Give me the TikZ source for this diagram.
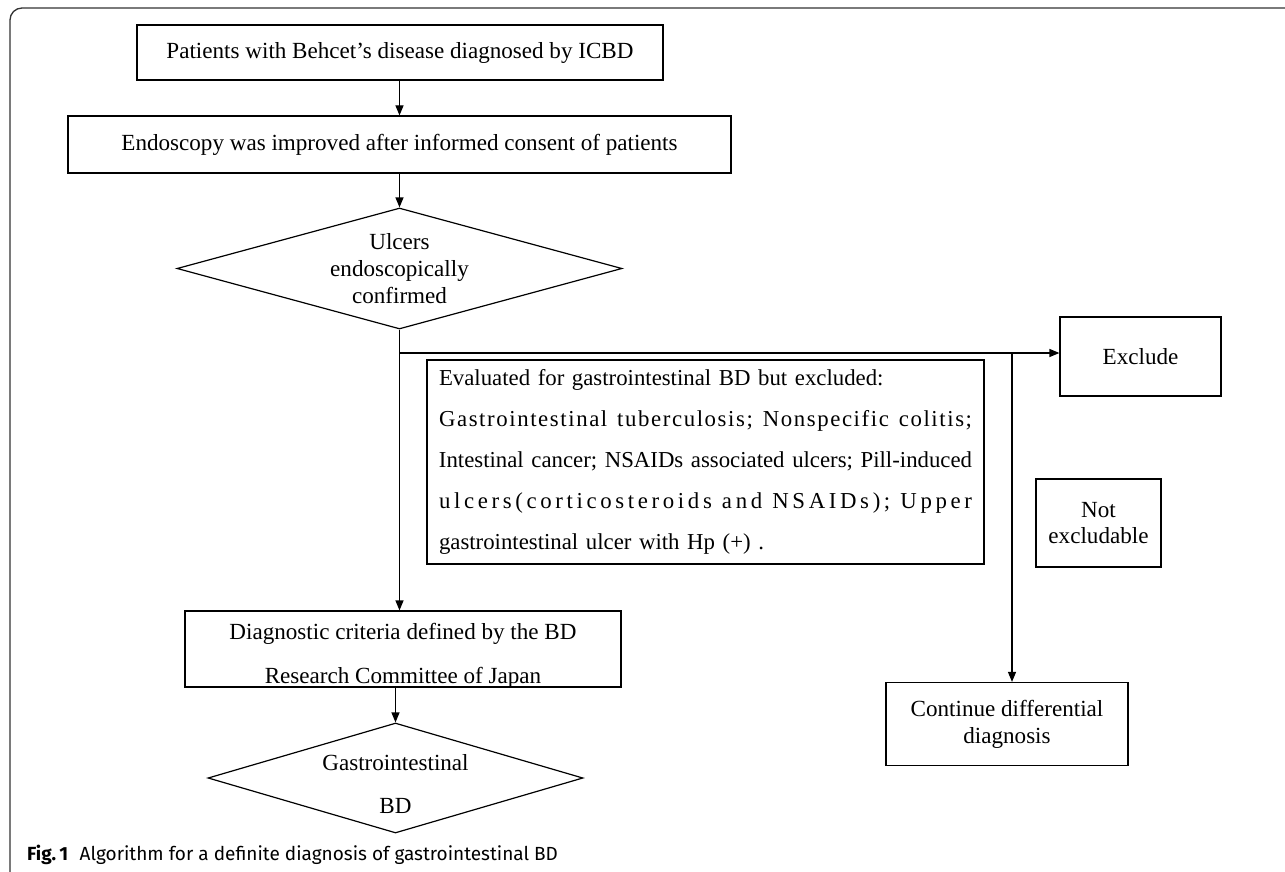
\documentclass[tikz,border=0pt]{standalone}
\usepackage{fontspec}
\setmainfont{Liberation Serif}
\newfontfamily\lsA[LetterSpace=7]{Liberation Serif}
\newfontfamily\lsB[LetterSpace=16]{Liberation Serif}
\newfontfamily\capfont{Fira Sans}
\usetikzlibrary{arrows.meta,shapes.geometric}
\newcommand{\dtext}[3]{\smash{\raisebox{#1}{\parbox[c]{#2}{\centering #3}}}}
\tikzset{
  every node/.style={font=\fontsize{23.1}{27}\selectfont},
  boxnode/.style={draw=black, line width=1.2pt, rectangle, inner sep=0pt, align=center},
  decision/.style={draw=black, line width=1.2pt, diamond, inner sep=0pt},
  flow/.style={draw=black, line width=1.2pt, -{Triangle[length=10pt,width=8pt]}},
}
\begin{document}
\begin{tikzpicture}[x=1pt,y=-1pt]
\useasboundingbox (0,0) rectangle (1285,872);
% outer frame
\draw[line width=1.3pt, black!80, rounded corners=12pt] (10,872) -- (10,8) -- (1285,8);

\node[boxnode, minimum width=526pt, minimum height=55pt] (b1) at (400,52.5)
  {Patients with Behcet's disease diagnosed by ICBD};
\node[boxnode, minimum width=663pt, minimum height=57pt] (b2) at (399.5,144.5)
  {Endoscopy was improved after informed consent of patients};
\node[decision, aspect=3.68, minimum width=445pt, minimum height=121pt] (d1) at (399.5,268.5)
  {\dtext{-6pt}{200pt}{Ulcers\\endoscopically\\confirmed}};

\node[boxnode, minimum width=557pt, minimum height=204pt, text width=533pt, align=left,
      font=\fontsize{22.8}{41}\selectfont] (ev) at (705.5,462)
  {Evaluated for gastrointestinal BD but excluded:\\
   \makebox[533pt]{\lsA Gastrointestinal \hfill tuberculosis; \hfill Nonspecific \hfill colitis;}\\
   \makebox[533pt]{Intestinal \hfill cancer; \hfill NSAIDs \hfill associated \hfill ulcers; \hfill Pill-induced}\\
   \makebox[533pt]{\lsB ulcers(corticosteroids \hfill and \hfill NSAIDs); \hfill Upper}\\
   gastrointestinal ulcer with Hp (+) .};

\node[boxnode, minimum width=161pt, minimum height=79pt] (ex) at (1140.5,356.5) {Exclude};
\node[boxnode, minimum width=125pt, minimum height=88pt, font=\fontsize{23.1}{26}\selectfont] (ne) at (1098.5,523)
  {Not\\excludable};
\node[boxnode, minimum width=242pt, minimum height=83pt] (cd) at (1007,724)
  {Continue differential\\diagnosis};
\node[boxnode, minimum width=436pt, minimum height=76pt, font=\fontsize{23.1}{44}\selectfont] (dc) at (403,649)
  {\dtext{-13pt}{420pt}{Diagnostic criteria defined by the BD\\Research Committee of Japan}};
\node[decision, aspect=3.41, minimum width=375pt, minimum height=110pt, font=\fontsize{23.1}{43}\selectfont] (gi) at (395.5,778)
  {\dtext{-12pt}{200pt}{Gastrointestinal\\BD}};

\coordinate (j1) at (399.5,353);
\coordinate (j2) at (1012,353);

\draw[flow] (b1.south -| b2.north) -- (b2.north);
\draw[flow] (b2.south) -- (d1.north);
\draw[flow] (d1.south) -- (d1.south |- dc.north);
\draw[flow] (j1) -- (j1 -| ex.west);
\draw[flow] (j2) -- (j2 |- cd.north);
\draw[flow] (gi.north |- dc.south) -- (gi.north);

\node[anchor=west, inner sep=0pt, font=\capfont\fontsize{19}{22}\selectfont] (cap) at (27,855)
  {\textbf{Fig.\,1}\hspace{0.6em}Algorithm for a definite diagnosis of gastrointestinal BD};
\end{tikzpicture}
\end{document}
